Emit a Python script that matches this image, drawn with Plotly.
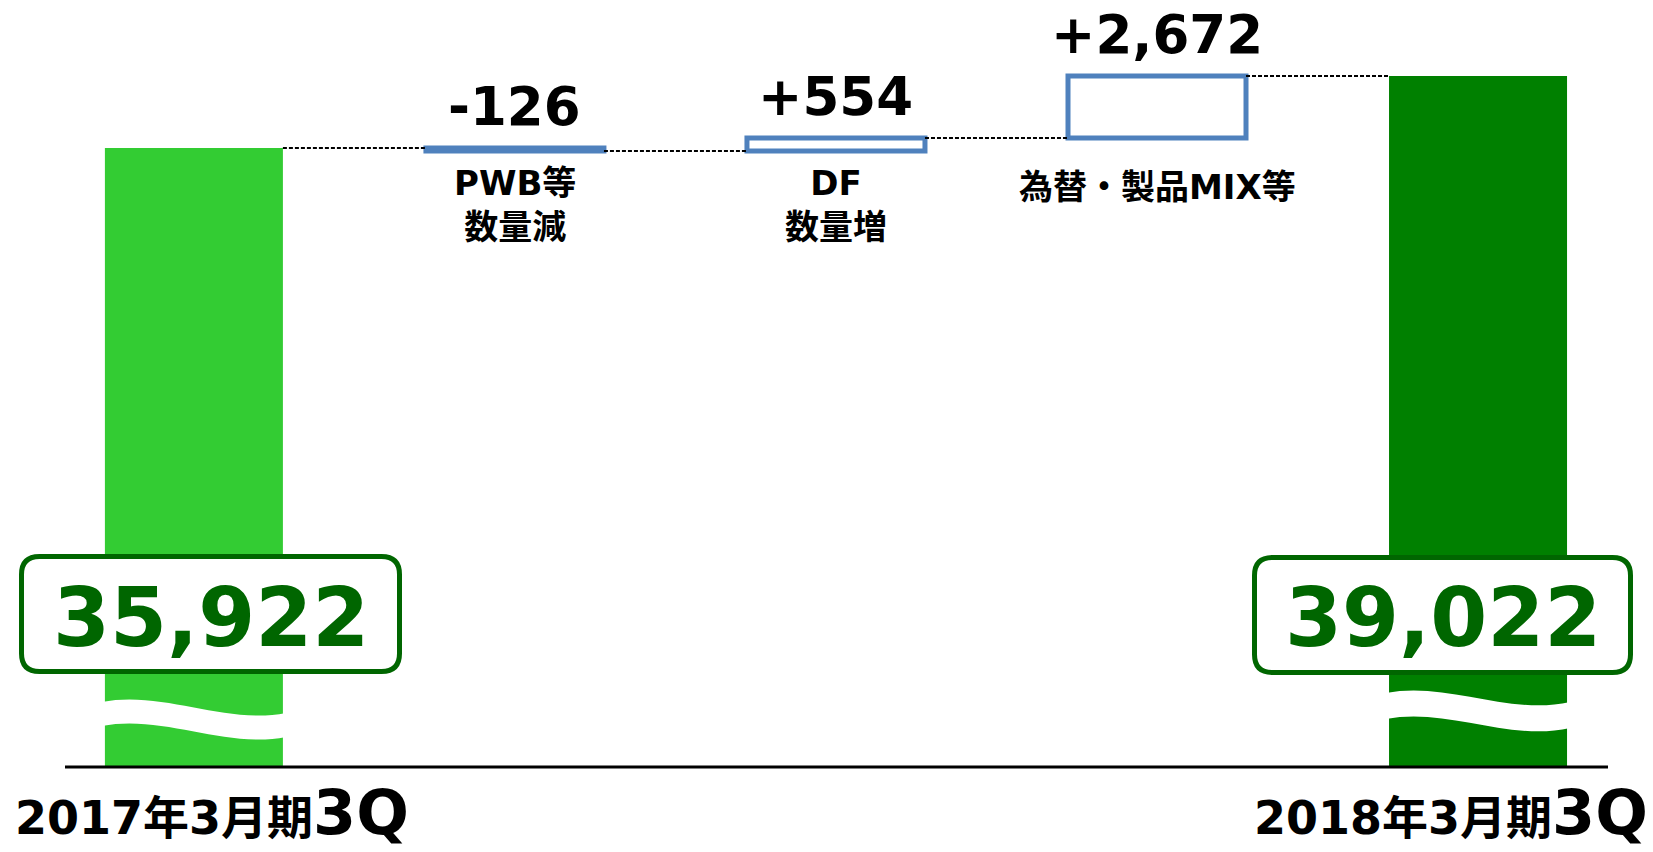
import plotly.graph_objects as go

# ---------------- data ----------------
period_labels = ["2017年3月期", "2018年3月期"]
quarter_label = "3Q"
start_total = 35922
end_total = 39022
delta_categories = ["PWB等<br>数量減", "DF<br>数量増", "為替・製品MIX等"]
deltas = [-126, 554, 2672]

# ---------------- layout constants ----------------
W, H = 1653, 852
PB = 767                     # pixel row of the plot-area bottom (axis line)
BAR_W = 0.5545
X_RANGE = [-0.604, 4.545]
UNITS_PER_PX = (end_total - start_total) / 72.0
Y_TOP = start_total + 148 * UNITS_PER_PX
Y_BOT = start_total - (PB - 148) * UNITS_PER_PX

FONT = "DejaVu Sans, Noto Sans CJK JP, sans-serif"
BLUE = "#4F81BD"
LIGHT_GREEN = "#33CC33"
DARK_GREEN = "#008000"
BOX_GREEN = "#006600"


def fx(px):
    return px / W


def fy(py):
    return (PB - py) / PB


# cumulative levels
levels = [start_total]
for d in deltas:
    levels.append(levels[-1] + d)

n = len(deltas) + 2
x_total = [0, n - 1]
x_delta = list(range(1, n - 1))

fig = go.Figure()

# total bars
fig.add_trace(go.Bar(
    x=x_total, y=[start_total, end_total], width=BAR_W,
    marker=dict(color=[LIGHT_GREEN, DARK_GREEN], line=dict(width=0)),
    hoverinfo="skip",
))

# delta bars
fig.add_trace(go.Bar(
    x=x_delta, y=deltas, base=levels[:-1], width=BAR_W,
    marker=dict(color=["white" if d > 0 else BLUE for d in deltas],
                line=dict(color=BLUE, width=5)),
    hoverinfo="skip",
))

# dashed connectors
all_x = [0] + x_delta + [n - 1]
cx, cy = [], []
for i in range(n - 1):
    lvl = levels[i]
    cx += [all_x[i] + BAR_W / 2, all_x[i + 1] - BAR_W / 2, None]
    cy += [lvl, lvl, None]
fig.add_trace(go.Scatter(
    x=cx, y=cy, mode="lines",
    line=dict(color="black", width=2, dash="4px,2px"),
    hoverinfo="skip",
))

annotations = []
shapes = []

# delta value labels
for xi, base, d in zip(x_delta, levels[:-1], deltas):
    annotations.append(dict(
        x=xi, y=max(base, base + d), xref="x", yref="y",
        text=f"{d:+,}", showarrow=False, yanchor="bottom", yshift=9,
        font=dict(family=FONT, size=53, color="black", weight="bold"),
    ))

# delta category labels
for xi, lab in zip(x_delta, delta_categories):
    top_px = 161 if "<br>" in lab else 165
    annotations.append(dict(
        x=xi, y=fy(top_px), xref="x", yref="paper",
        text=lab, showarrow=False, yanchor="top", align="center",
        font=dict(family=FONT, size=34, color="black", weight="bold"),
    ))

# wave breaks in total bars
def wave(xc, top_l, top_r, c1, c2, thick):
    x0 = xc - BAR_W / 2 - 0.01
    x1 = xc + BAR_W / 2 + 0.01
    w = x1 - x0
    p = (f"M{x0},{fy(top_l)} "
         f"C{x0 + w / 3},{fy(c1)} {x0 + 2 * w / 3},{fy(c2)} {x1},{fy(top_r)} "
         f"L{x1},{fy(top_r + thick)} "
         f"C{x0 + 2 * w / 3},{fy(c2 + thick)} {x0 + w / 3},{fy(c1 + thick)} {x0},{fy(top_l + thick)} Z")
    return dict(type="path", path=p, xref="x", yref="paper",
                fillcolor="white", line=dict(width=0), layer="above")

shapes.append(wave(x_total[0], 702, 713, 690, 725, 24))
shapes.append(wave(x_total[1], 693, 702, 681, 716, 26))

# axis line
shapes.append(dict(type="line", xref="paper", yref="paper",
                   x0=fx(65), x1=fx(1608), y0=fy(767), y1=fy(767),
                   line=dict(color="black", width=3), layer="above"))

# rounded value boxes
def rrect(x0, y0, x1, y1, r):
    pts = [
        ("M", [(x0 + r, y0)]),
        ("L", [(x1 - r, y0)]),
        ("Q", [(x1, y0), (x1, y0 + r)]),
        ("L", [(x1, y1 - r)]),
        ("Q", [(x1, y1), (x1 - r, y1)]),
        ("L", [(x0 + r, y1)]),
        ("Q", [(x0, y1), (x0, y1 - r)]),
        ("L", [(x0, y0 + r)]),
        ("Q", [(x0, y0), (x0 + r, y0)]),
    ]
    s = ""
    for cmd, ps in pts:
        s += cmd + " ".join(f"{fx(a)},{fy(b)}" for a, b in ps) + " "
    return s + "Z"

box_px = [(21.5, 556.5, 399.5, 671.5), (1254.5, 557.5, 1630.5, 672.5)]
text_cx = [211, 1443]
for (bx0, by0, bx1, by1), tcx, val in zip(box_px, text_cx, [start_total, end_total]):
    shapes.append(dict(type="path", path=rrect(bx0, by0, bx1, by1, 18),
                       xref="paper", yref="paper", fillcolor="white",
                       line=dict(color=BOX_GREEN, width=5), layer="above"))
    annotations.append(dict(
        x=fx(tcx), y=fy(617), xref="paper", yref="paper",
        text=f"{val:,}", showarrow=False, yanchor="middle", xanchor="center",
        font=dict(family=FONT, size=82, color=BOX_GREEN, weight="bold"),
    ))

# period labels at bottom
for lab, xpx, anchor in zip(period_labels, [13, 1650], ["left", "right"]):
    annotations.append(dict(
        x=fx(xpx), y=fy(851), xref="paper", yref="paper",
        text=f"{lab}<span style='font-size:62px'>{quarter_label}</span>",
        showarrow=False, yanchor="bottom", xanchor=anchor,
        font=dict(family=FONT, size=46, color="black", weight="bold"),
    ))

fig.update_layout(
    width=W, height=H,
    margin=dict(l=0, r=0, t=0, b=H - PB, pad=0),
    paper_bgcolor="white", plot_bgcolor="white",
    barmode="overlay", showlegend=False,
    xaxis=dict(visible=False, range=X_RANGE, fixedrange=True),
    yaxis=dict(visible=False, range=[Y_BOT, Y_TOP], fixedrange=True),
    annotations=annotations, shapes=shapes,
)

fig.write_html("out.html", config={"displayModeBar": False})
